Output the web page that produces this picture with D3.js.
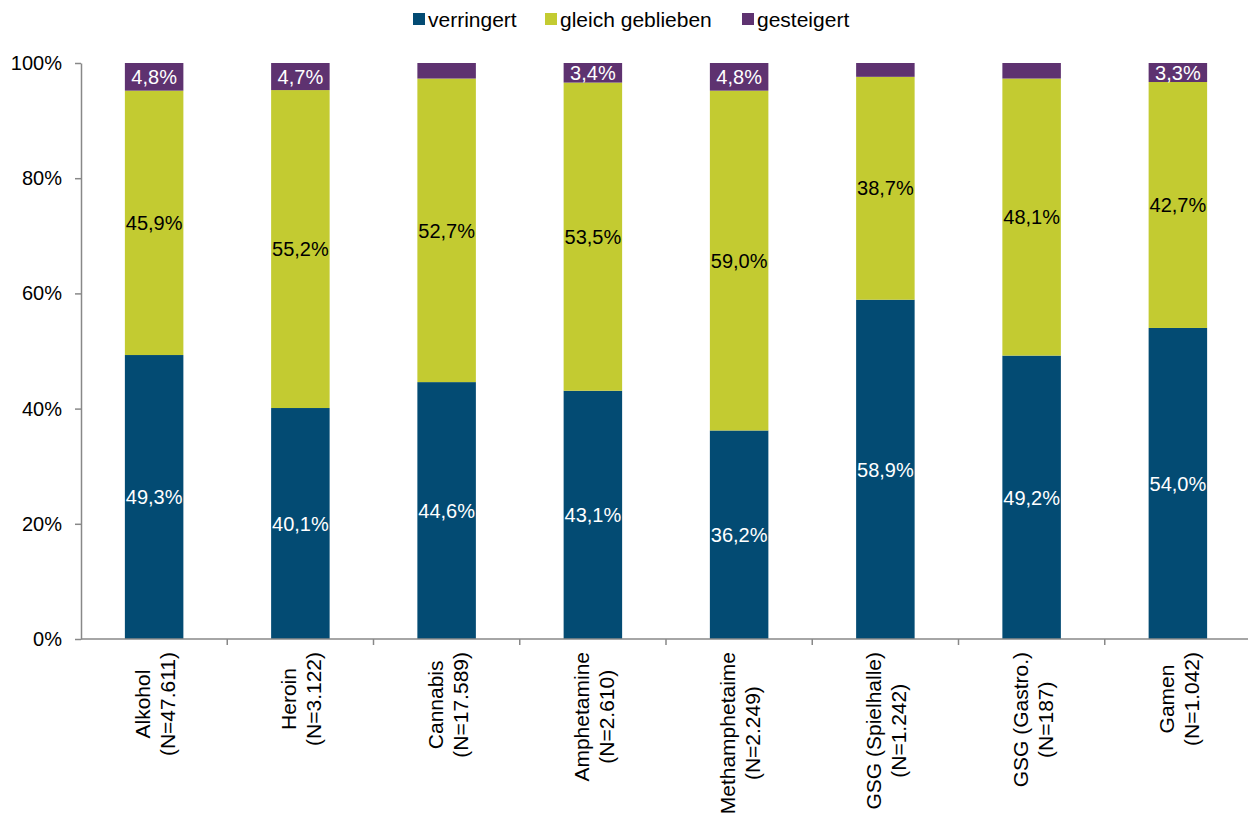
<!DOCTYPE html>
<html>
<head>
<meta charset="utf-8">
<script src="https://d3js.org/d3.v7.min.js"></script>
<style>
  body { margin: 0; background: #fff; }
  svg { display: block; font-family: "Liberation Sans", Arial, sans-serif; }
</style>
</head>
<body>
<svg id="chart" width="1248" height="816"></svg>
<script>
// Categories (name + sample size) and shares per answer group, in percent
const categories = ["Alkohol", "Heroin", "Cannabis", "Amphetamine", "Methamphetaime", "GSG (Spielhalle)", "GSG (Gastro.)", "Gamen"];
const sampleSizes = ["N=47.611", "N=3.122", "N=17.589", "N=2.610", "N=2.249", "N=1.242", "N=187", "N=1.042"];
const verringert = [49.3, 40.1, 44.6, 43.1, 36.2, 58.9, 49.2, 54.0];
const gleichGeblieben = [45.9, 55.2, 52.7, 53.5, 59.0, 38.7, 48.1, 42.7];
const gesteigert = [4.8, 4.7, 2.7, 3.4, 4.8, 2.4, 2.7, 3.3];
const yTicks = [0, 20, 40, 60, 80, 100];

const seriesNames = ["verringert", "gleich geblieben", "gesteigert"];
const seriesValues = [verringert, gleichGeblieben, gesteigert];
const seriesColors = ["#034b73", "#c3cb31", "#5e3270"];
const labelColors = ["#ffffff", "#000000", "#ffffff"];
// small segments stay unlabelled
const minLabelValue = 3;

const svg = d3.select("#chart");
const margin = { left: 81, right: 0, top: 63, bottom: 177 };
const W = 1248, H = 816;

const x = d3.scaleBand().domain(categories).range([margin.left, 1251]).paddingInner(0.6).paddingOuter(0.3);
const y = d3.scaleLinear().domain([0, 100]).range([H - margin.bottom, margin.top]);

const rows = categories.map((c, i) => {
  const r = { cat: c };
  seriesNames.forEach((s, k) => r[s] = seriesValues[k][i]);
  return r;
});
const stacked = d3.stack().keys(seriesNames)(rows);

// bars
stacked.forEach((layer, k) => {
  const g = svg.append("g");
  g.selectAll("rect").data(layer).join("rect")
    .attr("x", d => x(d.data.cat))
    .attr("width", x.bandwidth())
    .attr("y", d => y(d[1]))
    .attr("height", d => y(d[0]) - y(d[1]))
    .attr("fill", seriesColors[k]);
  g.selectAll("text").data(layer.filter(d => d[1] - d[0] >= minLabelValue)).join("text")
    .attr("x", d => x(d.data.cat) + x.bandwidth() / 2)
    .attr("y", d => (y(d[0]) + y(d[1])) / 2)
    .attr("dy", "0.36em")
    .attr("text-anchor", "middle")
    .attr("font-size", 20)
    .attr("fill", labelColors[k])
    .text(d => d3.format(".1f")(d[1] - d[0]).replace(".", ",") + "%");
});

// y axis
const yAxis = svg.append("g").attr("transform", `translate(${margin.left},0)`)
  .call(d3.axisLeft(y).tickValues(yTicks).tickFormat(d => d + "%").tickSize(6).tickSizeOuter(0));
yAxis.select(".domain").attr("stroke", "#888").attr("stroke-width", 1.5);
yAxis.selectAll(".tick line").attr("stroke", "#888").attr("stroke-width", 1.5);
yAxis.selectAll(".tick text").attr("font-size", 20).attr("fill", "#000")
  .attr("font-family", "Liberation Sans, Arial, sans-serif").attr("x", -19);

// x axis with ticks at category boundaries
const xAxisY = y(0);
const step = x.step();
svg.append("line").attr("x1", margin.left).attr("x2", 1248).attr("y1", xAxisY).attr("y2", xAxisY)
  .attr("stroke", "#888").attr("stroke-width", 1.5);
svg.append("g").selectAll("line").data(d3.range(1, categories.length)).join("line")
  .attr("x1", i => x(categories[i]) - (step - x.bandwidth()) / 2)
  .attr("x2", i => x(categories[i]) - (step - x.bandwidth()) / 2)
  .attr("y1", xAxisY).attr("y2", xAxisY + 6)
  .attr("stroke", "#888").attr("stroke-width", 1.5);

// rotated two-line category labels: block hangs from the axis, lines centred on each other
const xl = svg.append("g").selectAll("g").data(categories).join("g")
  .attr("transform", d => `translate(${x(d) + x.bandwidth() / 2},${xAxisY + 13}) rotate(-90)`);
xl.each(function (d, i) {
  const g = d3.select(this);
  const lines = [d, "(" + sampleSizes[i] + ")"];
  const texts = lines.map((t, j) => g.append("text")
    .attr("text-anchor", "middle").attr("font-size", 21).attr("fill", "#000")
    .attr("y", j === 0 ? -4 : 21).text(t));
  const maxW = d3.max(texts, t => t.node().getComputedTextLength());
  texts.forEach(t => t.attr("x", -maxW / 2));
});

// legend
const legendX = [413, 545, 742];
const lg = svg.append("g").selectAll("g").data(seriesNames).join("g")
  .attr("transform", (d, i) => `translate(${legendX[i]},13)`);
lg.append("rect").attr("width", 12).attr("height", 12).attr("fill", (d, i) => seriesColors[i]);
lg.append("text").attr("x", 15).attr("y", 6).attr("dy", "0.36em").attr("font-size", 21).attr("fill", "#000").text(d => d);
</script>
</body>
</html>
